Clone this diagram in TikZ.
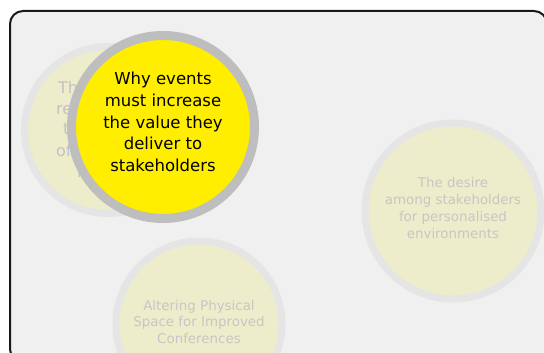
\documentclass[tikz,border=0pt]{standalone}
\usepackage{fontspec}
\setmainfont{DejaVu Sans}
\definecolor{bgc}{RGB}{240,240,240}
\definecolor{fadefill}{RGB}{237,237,204}
\definecolor{fadering}{RGB}{229,229,229}
\definecolor{fadetext}{RGB}{198,198,198}
\definecolor{backtext}{RGB}{194,194,198}
\definecolor{mainfill}{RGB}{255,238,0}
\definecolor{mainring}{RGB}{190,190,190}
\tikzset{
  fadecircle/.style={circle, fill=fadefill, draw=fadering, line width=7pt, inner sep=0pt},
  fadelabel/.style={text=fadetext, align=center, font=\fontsize{13.4}{16.7}\selectfont},
  backfrag/.style={text=backtext, anchor=base west, inner sep=0pt, font=\fontsize{16}{20}\selectfont},
  maincircle/.style={circle, fill=mainfill, draw=mainring, line width=9pt, inner sep=0pt},
  mainlabel/.style={text=black, align=center, font=\fontsize{16.5}{21.7}\selectfont},
}
\begin{document}
\begin{tikzpicture}[x=1pt,y=-1pt]
\useasboundingbox (0,0) rectangle (544,353);
\clip (0,0) rectangle (544,353);
\fill[white] (0,0) rectangle (544,353);
\draw[line width=2pt, fill=bgc, draw=black!90, rounded corners=13pt] (10,11) rectangle (547,362);
% faded circles
\node[fadecircle, minimum size=176pt] (right) at (453,211) {};
\node[fadelabel] (rightt) at (453,208) {The desire\\among stakeholders\\for personalised\\environments};
\node[fadecircle, minimum size=166pt] (bottom) at (199,324) {};
\node[fadelabel] (bottomt) at (199,322) {Altering Physical\\Space for Improved\\Conferences};
\node[fadecircle, minimum size=167pt] (back) at (108,130) {};
\node[backfrag] (b1) at (58,93) {The};
\node[backfrag] (b2) at (56,114) {res};
\node[backfrag] (b3) at (63,135) {t};
\node[backfrag] (b4) at (56,156) {of};
\node[backfrag] (b5) at (77,177) {in};
% main circle
\node[maincircle, minimum size=183pt] (main) at (163,127) {};
\node[mainlabel] (maint) at (163,122) {Why events\\must increase\\the value they\\deliver to\\stakeholders};
\end{tikzpicture}
\end{document}
